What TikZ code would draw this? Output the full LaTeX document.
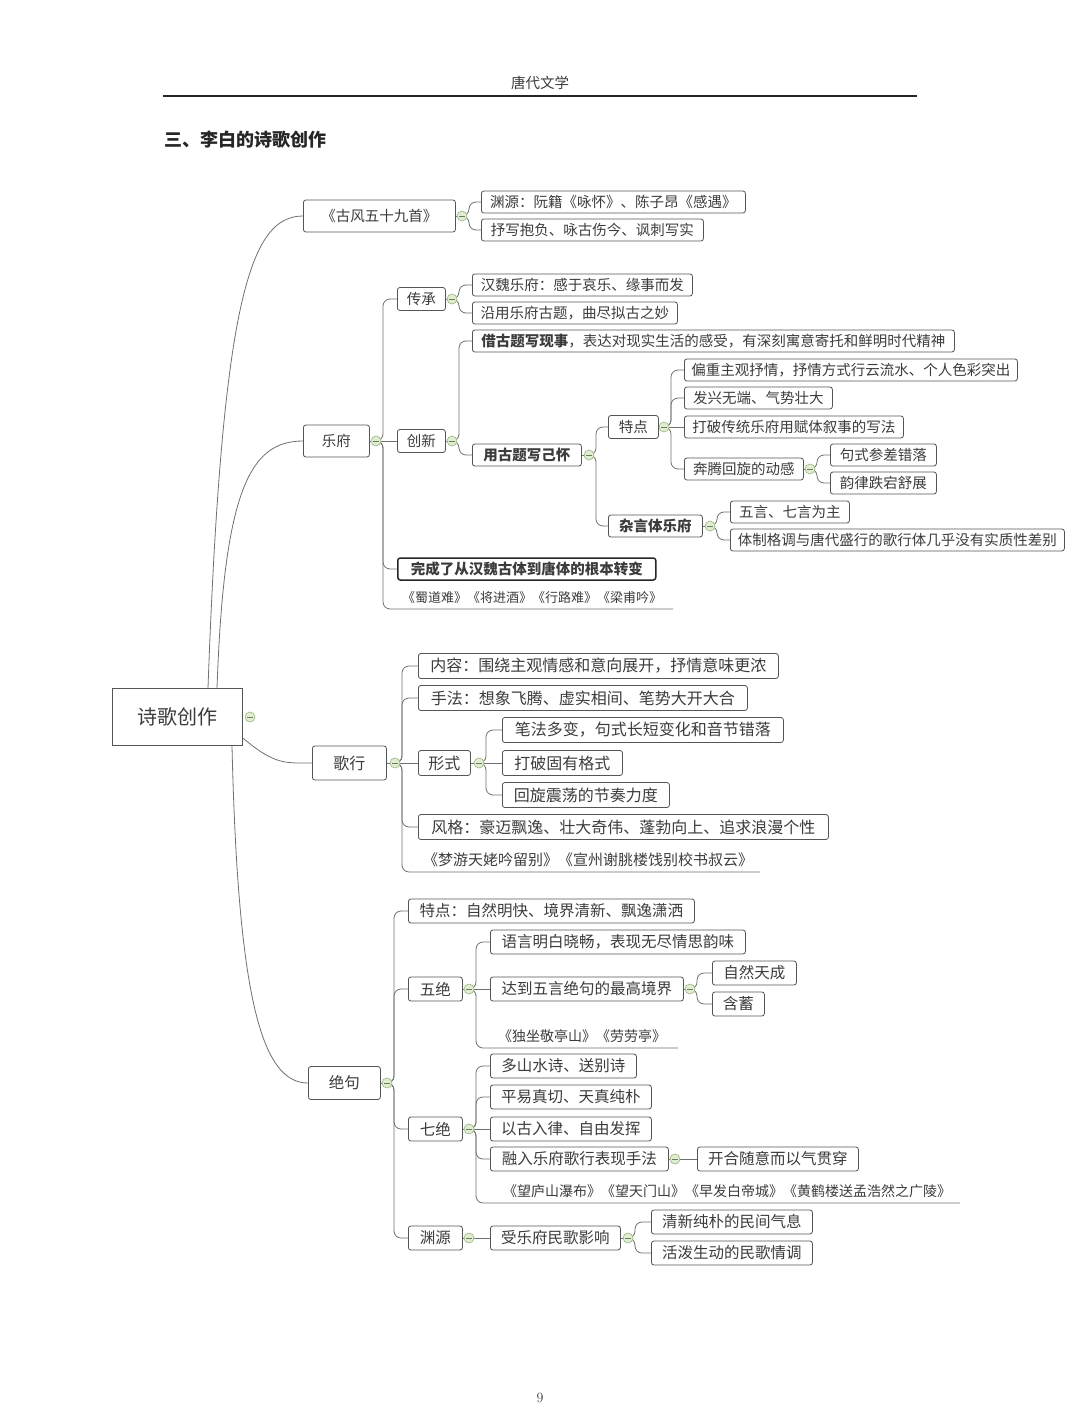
\documentclass[tikz,border=0pt]{standalone}
\usepackage{fontspec}
\newfontfamily\cjk{Noto Sans CJK SC}
\newcommand{\fsA}{\fontsize{14.5}{17}\selectfont}
\newcommand{\fsB}{\fontsize{16}{19}\selectfont}
\newcommand{\fsC}{\fontsize{15.5}{18}\selectfont}
\definecolor{boxc}{HTML}{555555}
\definecolor{linec}{HTML}{707070}
\definecolor{txtc}{HTML}{3C3C3C}
\definecolor{collF}{HTML}{E0EDD2}
\definecolor{collD}{HTML}{98B57E}
\tikzset{
  bx/.style={draw=boxc, line width=0.8pt, rounded corners=2.5pt, fill=white, anchor=west, inner sep=0pt, text=txtc},
  sA/.style={font=\cjk\fsA, minimum height=22pt},
  sB/.style={font=\cjk\fsB, minimum height=25pt},
  sC/.style={font=\cjk\fsC, minimum height=24pt},
  conn/.style={draw=linec, line width=0.8pt},
  br/.style={conn, rounded corners=7pt},
  plain/.style={text=txtc, inner sep=0pt},
  coll/.style={circle, draw=collD, fill=collF, line width=0.6pt, minimum size=10pt, inner sep=0pt,
    path picture={\draw[collD!70!black, line width=0.6pt] ([xshift=-3pt]path picture bounding box.center) -- ([xshift=3pt]path picture bounding box.center);}}
}
\begin{document}
\begin{tikzpicture}[x=1pt,y=-1pt]
\useasboundingbox[fill=white] (0,0) rectangle (1080,1407);

% header
\node[plain, font=\cjk\fsA] (hdr) at (540,83) {唐代文学};
\coordinate (hl) at (163,96);
\coordinate (hr) at (917,96);
\draw[line width=1.4pt, black!85] (hl) -- (hr);
\node[anchor=west, inner sep=0pt, font=\cjk\bfseries\fontsize{18}{21}\selectfont, text=black!85] (ttl) at (164,140) {三、李白的诗歌创作};

% root
\node[bx, rounded corners=0pt, minimum width=130pt, minimum height=57pt, font=\cjk\fontsize{20}{24}\selectfont] (root) at (112,717) {诗歌创作};
\coordinate (rc) at (250,717);

% ---------- 古风
\node[bx,sA,minimum width=152pt,minimum height=32pt] (gf) at (303,216) {《古风五十九首》};
\coordinate (gfc) at (462,216);
\node[bx,sA,minimum width=264pt] (gf1) at (481,202) {渊源：阮籍《咏怀》、陈子昂《感遇》};
\node[bx,sA,minimum width=222pt] (gf2) at (481,230) {抒写抱负、咏古伤今、讽刺写实};

% ---------- 乐府
\node[bx,sA,minimum width=66pt,minimum height=32pt] (yf) at (303,441) {乐府};
\coordinate (yfc) at (376,441);
\node[bx,sA,minimum width=48pt,minimum height=23pt] (cc) at (397,299) {传承};
\coordinate (ccc) at (452,299);
\node[bx,sA,minimum width=220pt] (cc1) at (472,285) {汉魏乐府：感于哀乐、缘事而发};
\node[bx,sA,minimum width=205pt] (cc2) at (472,313) {沿用乐府古题，曲尽拟古之妙};
\node[bx,sA,minimum width=48pt,minimum height=23pt] (cx) at (397,441) {创新};
\coordinate (cxc) at (452,441);
\node[bx,sA,minimum width=482pt] (cx1) at (472,341) {{\bfseries 借古题写现事}，表达对现实生活的感受，有深刻寓意寄托和鲜明时代精神};
\node[bx,sA,minimum width=109pt,font=\cjk\bfseries\fsA] (yg) at (472,455) {用古题写己怀};
\coordinate (ygc) at (589,455);
\node[bx,sA,minimum width=50pt,minimum height=23pt] (td) at (608,427) {特点};
\coordinate (tdc) at (664,427);
\node[bx,sA,minimum width=333pt] (td1) at (684,370) {偏重主观抒情，抒情方式行云流水、个人色彩突出};
\node[bx,sA,minimum width=148pt] (td2) at (684,398) {发兴无端、气势壮大};
\node[bx,sA,minimum width=219pt] (td3) at (684,427) {打破传统乐府用赋体叙事的写法};
\node[bx,sA,minimum width=119pt] (td4) at (684,469) {奔腾回旋的动感};
\coordinate (td4c) at (810,469);
\node[bx,sA,minimum width=106pt] (td41) at (830,455) {句式参差错落};
\node[bx,sA,minimum width=106pt] (td42) at (830,483) {韵律跌宕舒展};
\node[bx,sA,minimum width=94pt,font=\cjk\bfseries\fsA] (zy) at (608,526) {杂言体乐府};
\coordinate (zyc) at (710,526);
\node[bx,sA,minimum width=119pt] (zy1) at (730,512) {五言、七言为主};
\node[bx,sA,minimum width=334pt] (zy2) at (730,540) {体制格调与唐代盛行的歌行体几乎没有实质性差别};
\node[bx,sA,minimum width=258pt,font=\cjk\bfseries\fsA,draw=black!85,line width=1.5pt] (wc) at (397,569) {完成了从汉魏古体到唐体的根本转变};
\node[plain,font=\cjk\fontsize{13}{15}\selectfont] (sd) at (532,598) {《蜀道难》《将进酒》《行路难》《梁甫吟》};
\coordinate (sdE) at (673,609);

% ---------- 歌行
\node[bx,sB,minimum width=74pt,minimum height=34pt] (gx) at (312,763) {歌行};
\coordinate (gxc) at (395,763);
\node[bx,sB,minimum width=360pt] (gx1) at (418,666) {内容：围绕主观情感和意向展开，抒情意味更浓};
\node[bx,sB,minimum width=329pt] (gx2) at (418,698) {手法：想象飞腾、虚实相间、笔势大开大合};
\node[bx,sB,minimum width=52pt] (xs) at (418,763) {形式};
\coordinate (xsc) at (479,763);
\node[bx,sB,minimum width=281pt] (xs1) at (502,730) {笔法多变，句式长短变化和音节错落};
\node[bx,sB,minimum width=120pt] (xs2) at (502,763) {打破固有格式};
\node[bx,sB,minimum width=167pt] (xs3) at (502,795) {回旋震荡的节奏力度};
\node[bx,sB,minimum width=410pt] (gx3) at (418,827) {风格：豪迈飘逸、壮大奇伟、蓬勃向上、追求浪漫个性};
\node[plain,font=\cjk\fontsize{15}{18}\selectfont] (gx4) at (588,860) {《梦游天姥吟留别》《宣州谢朓楼饯别校书叔云》};
\coordinate (gx4E) at (760,872);

% ---------- 绝句
\node[bx,sC,minimum width=72pt,minimum height=33pt] (jj) at (308,1083) {绝句};
\coordinate (jjc) at (387,1083);
\node[bx,sC,minimum width=286pt] (jj1) at (408,911) {特点：自然明快、境界清新、飘逸潇洒};
\node[bx,sC,minimum width=54pt] (wj) at (408,989) {五绝};
\coordinate (wjc) at (469,989);
\node[bx,sC,minimum width=255pt] (wj1) at (490,942) {语言明白晓畅，表现无尽情思韵味};
\node[bx,sC,minimum width=193pt] (wj2) at (490,989) {达到五言绝句的最高境界};
\coordinate (wj2c) at (690,989);
\node[bx,sC,minimum width=84pt] (wj21) at (712,973) {自然天成};
\node[bx,sC,minimum width=52pt] (wj22) at (712,1004) {含蓄};
\node[plain,font=\cjk\fontsize{14}{17}\selectfont] (wj3) at (582,1036) {《独坐敬亭山》《劳劳亭》};
\coordinate (wj3E) at (678,1048);
\node[bx,sC,minimum width=54pt] (qj) at (408,1129) {七绝};
\coordinate (qjc) at (469,1129);
\node[bx,sC,minimum width=146pt] (qj1) at (490,1066) {多山水诗、送别诗};
\node[bx,sC,minimum width=161pt] (qj2) at (490,1097) {平易真切、天真纯朴};
\node[bx,sC,minimum width=161pt] (qj3) at (490,1129) {以古入律、自由发挥};
\node[bx,sC,minimum width=178pt] (qj4) at (490,1159) {融入乐府歌行表现手法};
\coordinate (qj4c) at (675,1159);
\node[bx,sC,minimum width=161pt] (qj41) at (697,1159) {开合随意而以气贯穿};
\node[plain,font=\cjk\fontsize{14}{17}\selectfont] (qj5) at (727,1191) {《望庐山瀑布》《望天门山》《早发白帝城》《黄鹤楼送孟浩然之广陵》};
\coordinate (qj5E) at (960,1203);
\node[bx,sC,minimum width=54pt] (yy) at (408,1238) {渊源};
\coordinate (yyc) at (469,1238);
\node[bx,sC,minimum width=130pt] (yy1) at (490,1238) {受乐府民歌影响};
\coordinate (yy1c) at (628,1238);
\node[bx,sC,minimum width=161pt] (yy11) at (651,1222) {清新纯朴的民间气息};
\node[bx,sC,minimum width=161pt] (yy12) at (651,1253) {活泼生动的民歌情调};

% page number
\node[plain,font=\normalfont\fontsize{14}{16}\selectfont] (pg) at (540,1398) {9};

% ---------- connectors from root
\draw[conn] ([xshift=96pt]root.north west) .. controls (222,300) and (250,216) .. (gf.west);
\draw[conn] ([xshift=105pt]root.north west) .. controls (224,490) and (250,441) .. (yf.west);
\draw[conn] ([yshift=-21pt]root.east) .. controls (275,765) and (285,763) .. (gx.west);
\draw[conn] ([xshift=120pt]root.south west) .. controls (238,1000) and (262,1083) .. (jj.west);

% box to collapse circle
\foreach \b/\c in {gf/gfc, yf/yfc, cc/ccc, cx/cxc, yg/ygc, td/tdc, td4/td4c, zy/zyc, gx/gxc, xs/xsc, jj/jjc, wj/wjc, wj2/wj2c, qj/qjc, qj4/qj4c, yy/yyc, yy1/yy1c}
  \draw[conn] (\b.east) -- (\c);

% branches
\draw[br] (gfc) -- ++(7,0) |- (gf1.west);
\draw[br] (gfc) -- ++(7,0) |- (gf2.west);

\draw[br] (yfc) -- ++(7,0) |- (cc.west);
\draw[conn] (yfc) -- (cx.west);
\draw[br] (yfc) -- ++(7,0) |- (wc.west);
\draw[br] (yfc) -- ++(7,0) |- (sdE);
\draw[br] (ccc) -- ++(7,0) |- (cc1.west);
\draw[br] (ccc) -- ++(7,0) |- (cc2.west);
\draw[br] (cxc) -- ++(7,0) |- (cx1.west);
\draw[br] (cxc) -- ++(7,0) |- (yg.west);
\draw[br] (ygc) -- ++(7,0) |- (td.west);
\draw[br] (ygc) -- ++(7,0) |- (zy.west);
\draw[br] (tdc) -- ++(7,0) |- (td1.west);
\draw[br] (tdc) -- ++(7,0) |- (td2.west);
\draw[conn] (tdc) -- (td3.west);
\draw[br] (tdc) -- ++(7,0) |- (td4.west);
\draw[br] (td4c) -- ++(7,0) |- (td41.west);
\draw[br] (td4c) -- ++(7,0) |- (td42.west);
\draw[br] (zyc) -- ++(7,0) |- (zy1.west);
\draw[br] (zyc) -- ++(7,0) |- (zy2.west);

\draw[br] (gxc) -- ++(7,0) |- (gx1.west);
\draw[br] (gxc) -- ++(7,0) |- (gx2.west);
\draw[conn] (gxc) -- (xs.west);
\draw[br] (gxc) -- ++(7,0) |- (gx3.west);
\draw[br] (gxc) -- ++(7,0) |- (gx4E);
\draw[br] (xsc) -- ++(7,0) |- (xs1.west);
\draw[conn] (xsc) -- (xs2.west);
\draw[br] (xsc) -- ++(7,0) |- (xs3.west);

\draw[br] (jjc) -- ++(7,0) |- (jj1.west);
\draw[br] (jjc) -- ++(7,0) |- (wj.west);
\draw[br] (jjc) -- ++(7,0) |- (qj.west);
\draw[br] (jjc) -- ++(7,0) |- (yy.west);
\draw[br] (wjc) -- ++(7,0) |- (wj1.west);
\draw[conn] (wjc) -- (wj2.west);
\draw[br] (wjc) -- ++(7,0) |- (wj3E);
\draw[br] (wj2c) -- ++(7,0) |- (wj21.west);
\draw[br] (wj2c) -- ++(7,0) |- (wj22.west);
\draw[br] (qjc) -- ++(7,0) |- (qj1.west);
\draw[br] (qjc) -- ++(7,0) |- (qj2.west);
\draw[conn] (qjc) -- (qj3.west);
\draw[br] (qjc) -- ++(7,0) |- (qj4.west);
\draw[br] (qjc) -- ++(7,0) |- (qj5E);
\draw[conn] (qj4c) -- (qj41.west);
\draw[conn] (yyc) -- (yy1.west);
\draw[br] (yy1c) -- ++(7,0) |- (yy11.west);
\draw[br] (yy1c) -- ++(7,0) |- (yy12.west);

% collapse circles
\foreach \c in {rc, gfc, yfc, ccc, cxc, ygc, tdc, td4c, zyc, gxc, xsc, jjc, wjc, wj2c, qjc, qj4c, yyc, yy1c}
  \node[coll] (\c N) at (\c) {};
\end{tikzpicture}
\end{document}
